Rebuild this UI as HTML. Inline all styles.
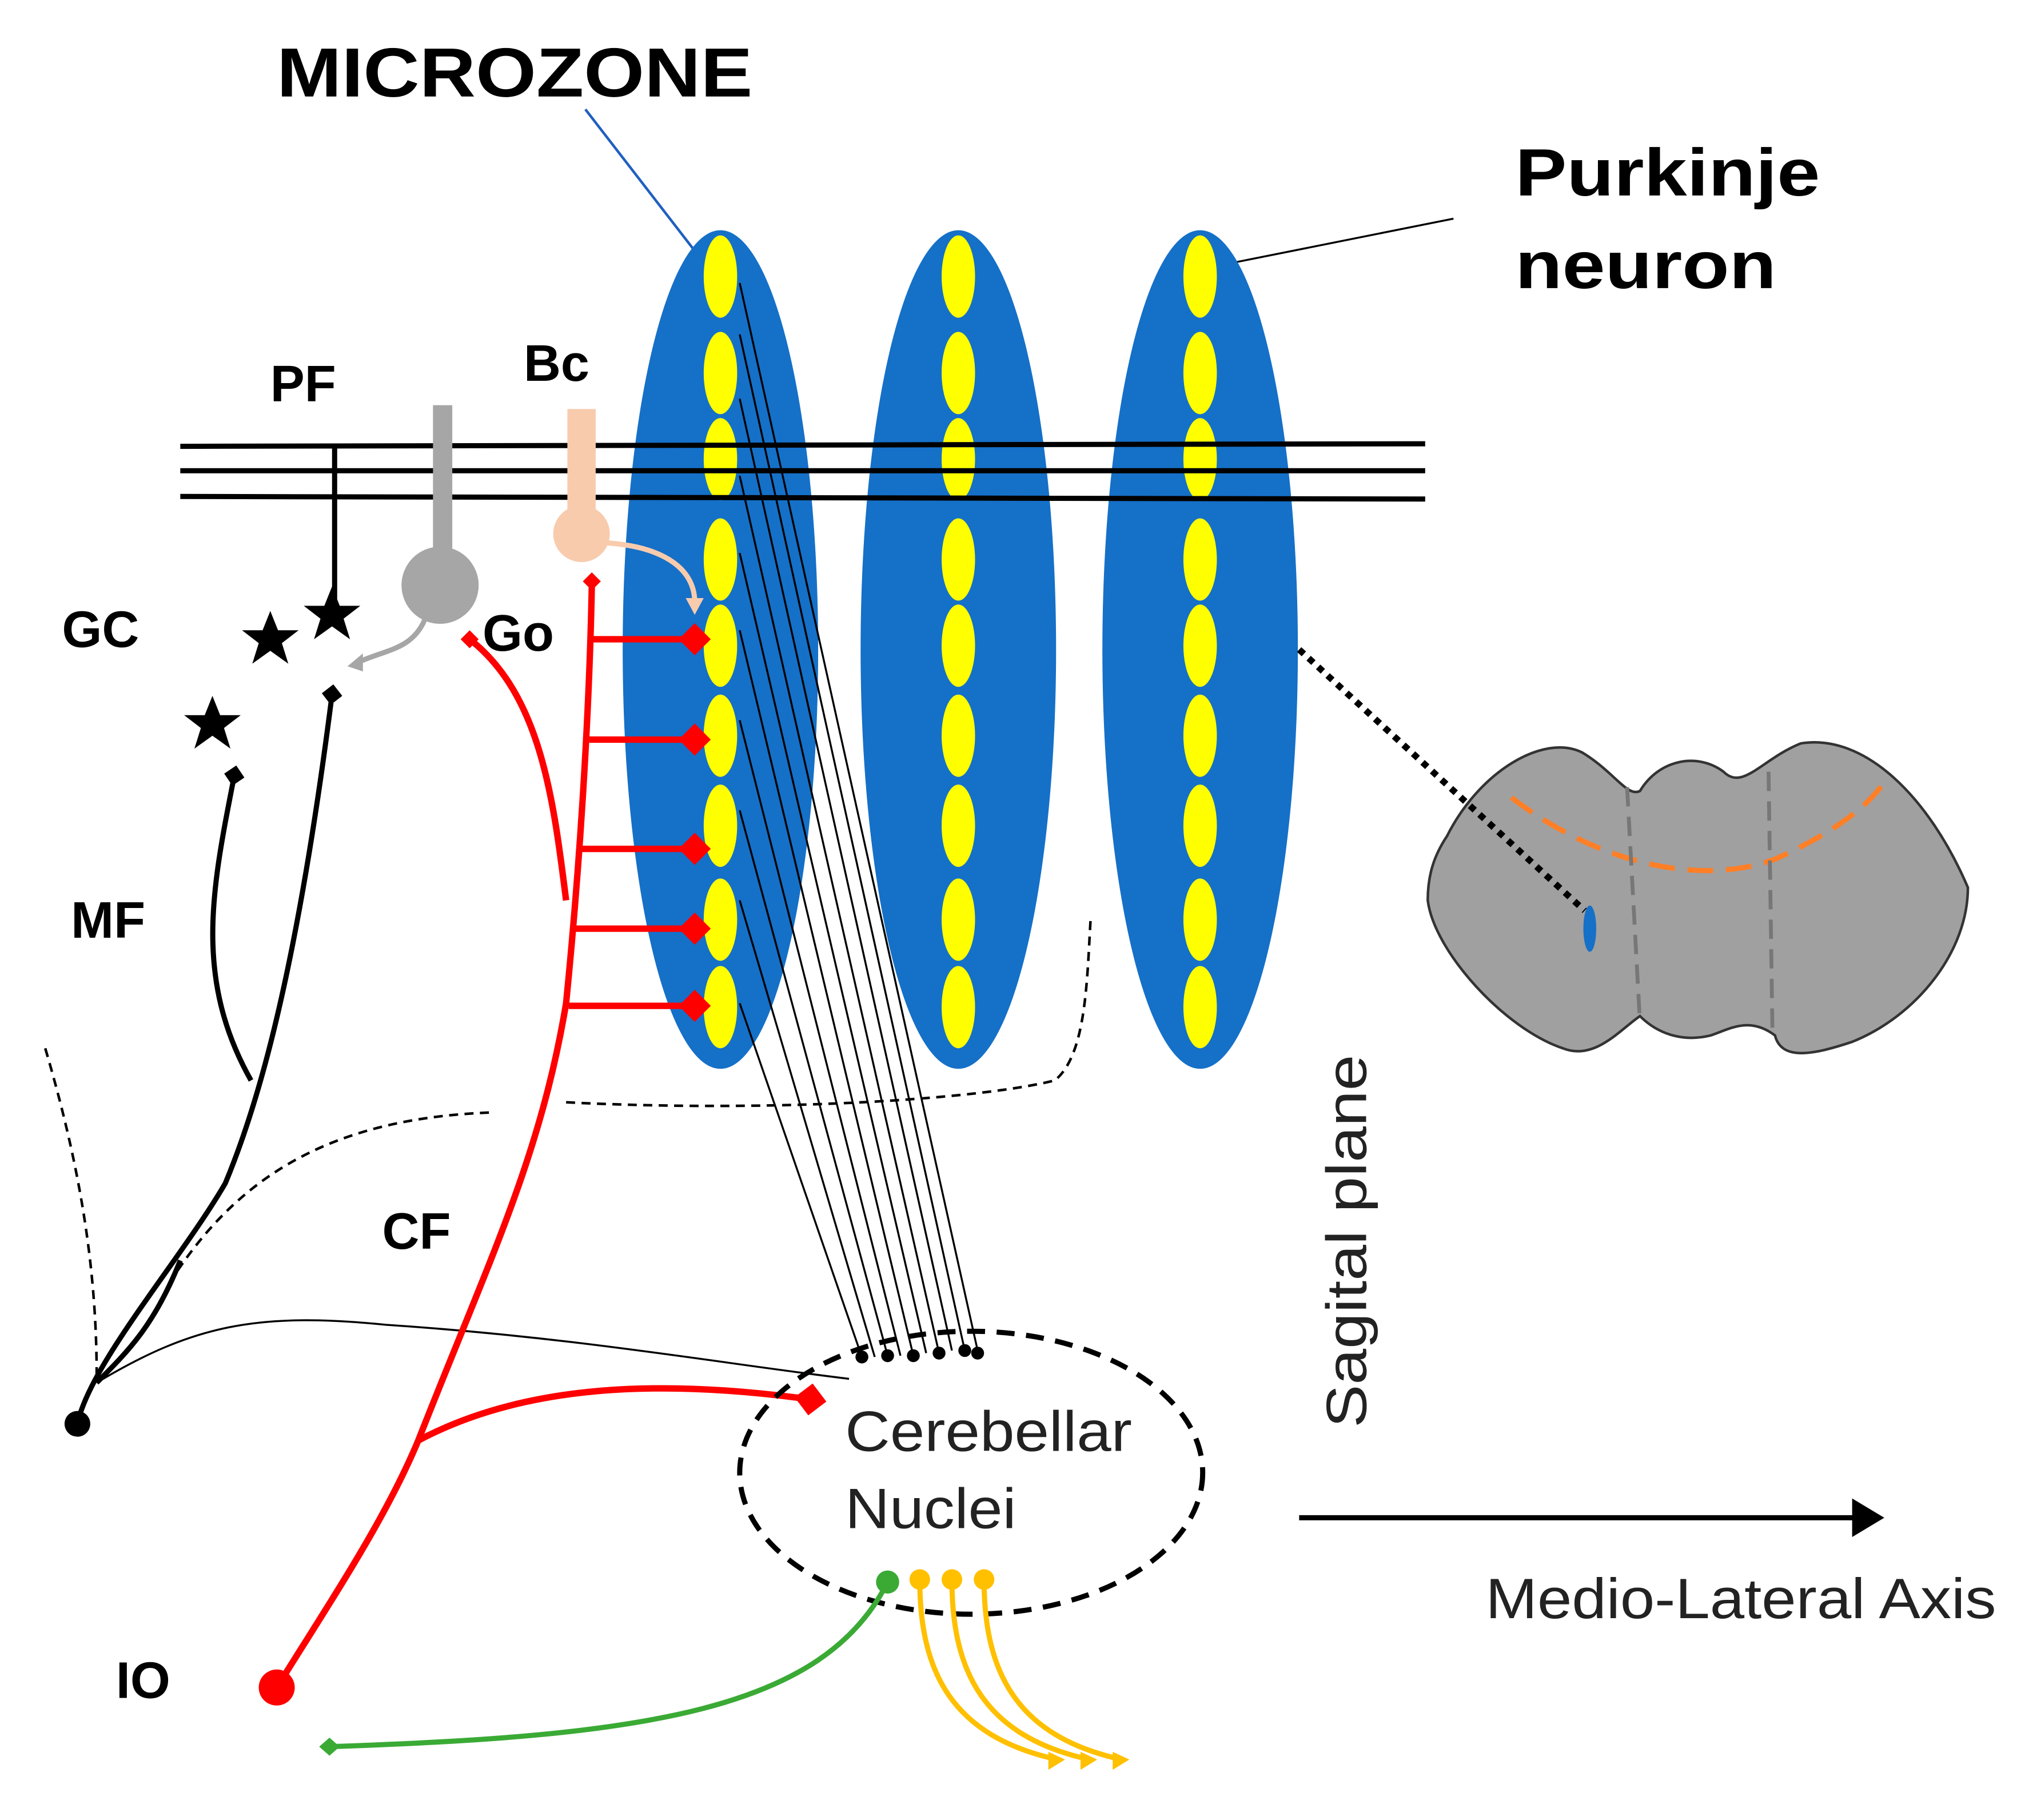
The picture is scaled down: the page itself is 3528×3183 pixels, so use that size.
<!DOCTYPE html>
<html><head><meta charset="utf-8"><style>
html,body{margin:0;padding:0;background:#fff;}
svg{display:block;}
text{font-family:"Liberation Sans",Arial,sans-serif;}
.b{font-weight:bold;fill:#000;}
</style></head><body>
<svg width="3528" height="3183" viewBox="0 0 1568 1415" xmlns="http://www.w3.org/2000/svg">
<defs>
<marker id="dr" viewBox="0 0 10 10" refX="5" refY="5" markerWidth="5" markerHeight="5" orient="auto"><path d="M0,5 L5,0 L10,5 L5,10Z" fill="#f00"/></marker>
<marker id="dk" viewBox="0 0 10 10" refX="5" refY="5" markerWidth="4" markerHeight="4" orient="auto"><path d="M0,5 L5,0 L10,5 L5,10Z" fill="#000"/></marker>
<polygon id="star" points="0,-22 6,-7 22,-7 9,3 14,19 0,9 -14,19 -9,3 -22,-7 -6,-7"/>
</defs>
<rect width="1568" height="1415" fill="#fff"/>
<text x="215" y="75" class="b" font-size="54" textLength="370" lengthAdjust="spacingAndGlyphs">MICROZONE</text>
<line x1="455" y1="85" x2="540" y2="195" stroke="#1f5fbf" stroke-width="2"/>
<text x="1178" y="152" class="b" font-size="52" textLength="237" lengthAdjust="spacingAndGlyphs">Purkinje</text>
<text x="1178" y="224" class="b" font-size="52" textLength="203" lengthAdjust="spacingAndGlyphs">neuron</text>
<line x1="1130" y1="170" x2="940" y2="208" stroke="#000" stroke-width="1.5"/>
<g fill="#1570c8">
<ellipse cx="560" cy="505" rx="76" ry="326"/>
<ellipse cx="745" cy="505" rx="76" ry="326"/>
<ellipse cx="933" cy="505" rx="76" ry="326"/>
</g>
<g fill="#ffff00">
<g id="ys">
<ellipse cx="560" cy="215" rx="13" ry="32"/><ellipse cx="560" cy="290" rx="13" ry="32"/><ellipse cx="560" cy="357" rx="13" ry="32"/><ellipse cx="560" cy="435" rx="13" ry="32"/><ellipse cx="560" cy="502" rx="13" ry="32"/><ellipse cx="560" cy="572" rx="13" ry="32"/><ellipse cx="560" cy="642" rx="13" ry="32"/><ellipse cx="560" cy="715" rx="13" ry="32"/><ellipse cx="560" cy="783" rx="13" ry="32"/>
</g>
<use href="#ys" x="185"/><use href="#ys" x="373"/>
</g>
<g stroke="#000" stroke-width="4">
<line x1="140" y1="347" x2="1108" y2="345"/>
<line x1="140" y1="366" x2="1108" y2="366"/>
<line x1="140" y1="386" x2="1108" y2="388"/>
</g>
<g stroke="#000" stroke-width="1.5" fill="none">
<line x1="575" y1="220" x2="760" y2="1050"/><line x1="575" y1="260" x2="750" y2="1050"/><line x1="575" y1="310" x2="740" y2="1050"/><line x1="575" y1="370" x2="730" y2="1052"/><line x1="575" y1="430" x2="720" y2="1052"/><line x1="575" y1="490" x2="710" y2="1054"/><line x1="575" y1="560" x2="700" y2="1054"/><line x1="575" y1="630" x2="690" y2="1054"/><line x1="575" y1="700" x2="680" y2="1055"/><line x1="575" y1="780" x2="670" y2="1055"/>
</g>
<g fill="#000"><circle cx="670" cy="1055" r="5"/><circle cx="690" cy="1054" r="5"/><circle cx="710" cy="1054" r="5"/><circle cx="730" cy="1052" r="5"/><circle cx="750" cy="1050" r="5"/><circle cx="760" cy="1052" r="5"/></g>
<text x="210" y="312" class="b" font-size="40">PF</text>
<text x="407" y="296" class="b" font-size="40">Bc</text>
<text x="48" y="503" class="b" font-size="40">GC</text>
<text x="375" y="506" class="b" font-size="40">Go</text>
<text x="55" y="729" class="b" font-size="40">MF</text>
<text x="297" y="971" class="b" font-size="40">CF</text>
<text x="90" y="1320" class="b" font-size="40">IO</text>
<line x1="344" y1="315" x2="344" y2="435" stroke="#a6a6a6" stroke-width="15"/>
<circle cx="342" cy="455" r="30" fill="#a6a6a6"/>
<path d="M330,482 C320,505 300,505 278,515" stroke="#a6a6a6" stroke-width="4" fill="none"/>
<path d="M270,518 L282,508 L282,522Z" fill="#a6a6a6"/>
<rect x="441" y="318" width="22" height="90" fill="#f8cbad"/>
<circle cx="452" cy="415" r="22" fill="#f8cbad"/>
<path d="M470,422 C520,425 540,445 540,468" stroke="#f8cbad" stroke-width="4" fill="none"/>
<path d="M533,465 L547,465 L540,478Z" fill="#f8cbad"/>
<line x1="260" y1="347" x2="260" y2="475" stroke="#000" stroke-width="4"/>
<g fill="#000">
<use href="#star" x="258" y="478" transform="rotate(0)"/>
<use href="#star" x="210" y="497"/>
<use href="#star" x="165" y="563"/>
</g>
<g stroke="#000" stroke-width="4" fill="none">
<path d="M60,1107 C70,1060 140,980 175,920 C200,860 230,760 258,540" marker-end="url(#dk)"/>
<path d="M195,840 C150,760 165,690 182,603" marker-end="url(#dk)"/>
<path d="M75,1075 C100,1050 120,1030 140,980"/>
</g>
<circle cx="60" cy="1107" r="10" fill="#000"/>
<path d="M75,1075 C150,1030 200,1020 300,1030 C450,1040 560,1060 660,1072" stroke="#000" stroke-width="1.5" fill="none"/>
<g stroke="#000" stroke-width="2" stroke-dasharray="7,5" fill="none">
<path d="M35,815 C60,900 75,980 75,1070"/>
<path d="M380,865 C250,870 180,920 130,1000"/>
<path d="M440,857 C600,865 760,855 820,840 C845,820 845,760 848,712"/>
</g>
<g stroke="#f00" stroke-width="5" fill="none">
<path d="M215,1312 C260,1240 300,1180 325,1120 C380,980 420,900 440,780 C450,680 458,560 460,455"/>
<path d="M365,497 C420,540 430,620 440,700"/>
<path d="M325,1120 C400,1080 500,1070 630,1088" marker-end="url(#dr)"/>
<path d="M460,497 L540,497" marker-end="url(#dr)"/>
<path d="M458,575 L540,575" marker-end="url(#dr)"/>
<path d="M452,660 L540,660" marker-end="url(#dr)"/>
<path d="M447,722 L540,722" marker-end="url(#dr)"/>
<path d="M442,782 L540,782" marker-end="url(#dr)"/>
</g>
<path d="M453,452 L460,445 L467,452 L460,459Z" fill="#f00"/>
<path d="M358,497 L365,490 L372,497 L365,504Z" fill="#f00"/>
<circle cx="215" cy="1312" r="14" fill="#f00"/>
<ellipse cx="755" cy="1145" rx="180" ry="110" fill="none" stroke="#000" stroke-width="4" stroke-dasharray="14,9"/>
<text x="657" y="1128" font-size="44" fill="#222" textLength="223" lengthAdjust="spacingAndGlyphs">Cerebellar</text>
<text x="657" y="1188" font-size="44" fill="#222" textLength="133" lengthAdjust="spacingAndGlyphs">Nuclei</text>
<path d="M690,1230 C640,1330 500,1350 255,1358" stroke="#3aaa35" stroke-width="4" fill="none"/>
<circle cx="690" cy="1230" r="9" fill="#3aaa35"/>
<path d="M248,1358 L256,1351 L264,1358 L256,1365Z" fill="#3aaa35"/>
<g stroke="#ffc000" stroke-width="4" fill="none">
<path d="M715,1228 C715,1300 740,1350 822,1368"/>
<path d="M740,1228 C740,1300 765,1350 847,1368"/>
<path d="M765,1228 C765,1300 790,1350 872,1368"/>
</g>
<g fill="#ffc000"><circle cx="715" cy="1228" r="8"/><circle cx="740" cy="1228" r="8"/><circle cx="765" cy="1228" r="8"/>
<path d="M815,1362 L828,1368 L815,1376Z"/><path d="M840,1362 L853,1368 L840,1376Z"/><path d="M865,1362 L878,1368 L865,1376Z"/></g>
<line x1="1010" y1="1180" x2="1450" y2="1180" stroke="#000" stroke-width="4"/>
<path d="M1440,1165 L1465,1180 L1440,1195Z" fill="#000"/>
<text x="1155" y="1258" font-size="44" fill="#222" textLength="397" lengthAdjust="spacingAndGlyphs">Medio-Lateral Axis</text>
<text transform="translate(1062,965) rotate(-90)" text-anchor="middle" font-size="44" fill="#222" textLength="290" lengthAdjust="spacingAndGlyphs">Sagital plane</text>
<path d="M1125,650 C1150,600 1200,570 1230,585 C1255,600 1265,620 1275,615 C1290,590 1320,585 1340,600 C1355,615 1370,590 1400,578 C1450,570 1500,620 1530,690 C1530,740 1490,790 1440,810 C1410,820 1385,825 1380,805 C1360,790 1345,800 1330,805 C1310,810 1290,805 1275,790 C1260,800 1240,825 1215,815 C1170,800 1115,740 1110,700 C1110,680 1115,665 1125,650Z" fill="#a0a0a0" stroke="#333" stroke-width="2"/>
<path d="M1175,620 C1240,670 1320,690 1380,668 C1420,650 1450,630 1465,608" stroke="#ff7f27" stroke-width="4" stroke-dasharray="20,10" fill="none"/>
<g stroke="#777" stroke-width="3" stroke-dasharray="15,8"><line x1="1265" y1="612" x2="1275" y2="795"/><line x1="1375" y1="600" x2="1378" y2="800"/></g>
<line x1="1010" y1="505" x2="1232" y2="708" stroke="#000" stroke-width="5" stroke-dasharray="5,5"/>
<ellipse cx="1236" cy="722" rx="5" ry="18" fill="#1570c8"/>
</svg>
</body></html>
